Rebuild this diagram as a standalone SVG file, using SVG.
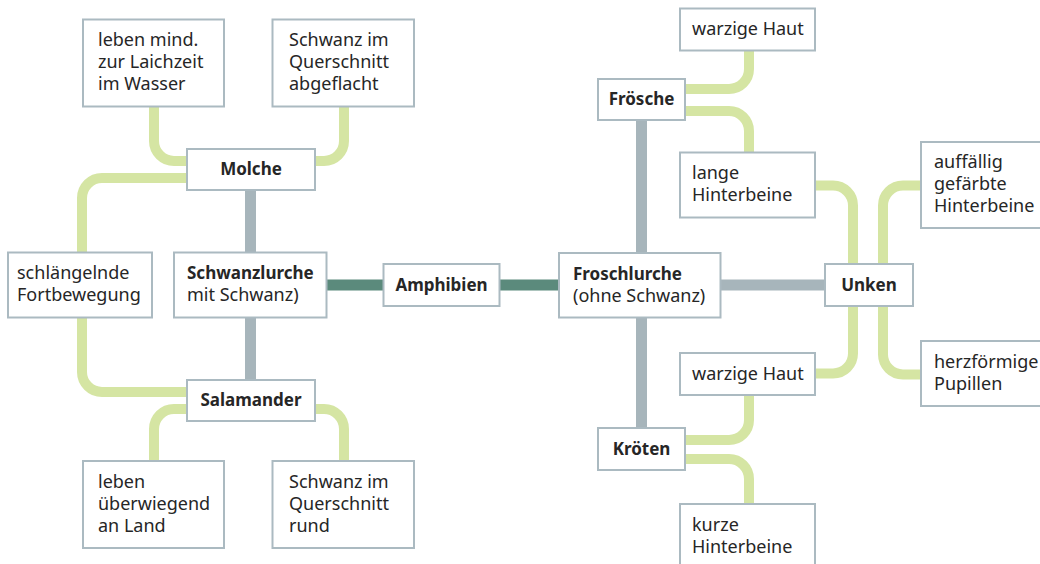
<svg xmlns="http://www.w3.org/2000/svg" width="1040" height="564" viewBox="0 0 1040 564">
<style>
.g{fill:none;stroke:#d5e5a3;stroke-width:10}
.s{fill:none;stroke:#a7b5bb;stroke-width:11}
.t{fill:none;stroke:#5b8a7c;stroke-width:11}
.b{fill:#fff;stroke:#abbac1;stroke-width:2}
text{font-family:"Noto Sans","Open Sans",sans-serif;font-size:18px;fill:#262626}
.h{font-weight:bold;font-size:17px}
.c{text-anchor:middle}
</style>
<rect width="1040" height="564" fill="#fff"/>
<g id="connectors">
<path class="g" d="M154,107 V141 A20,20 0 0 0 174,161 H188"/>
<path class="g" d="M344,107 V141 A20,20 0 0 1 324,161 H314"/>
<path class="g" d="M188,178 H102 A20,20 0 0 0 82,198 V253"/>
<path class="g" d="M82,317 V372 A20,20 0 0 0 102,392 H188"/>
<path class="g" d="M188,409 H174 A20,20 0 0 0 154,429 V462"/>
<path class="g" d="M314,409 H324 A20,20 0 0 1 344,429 V462"/>
<path class="s" d="M250.5,190 V253 M250.5,317 V381"/>
<path class="t" d="M326,285 H384 M499,285 H560"/>
<path class="s" d="M641.5,120 V254 M641.5,317 V429 M720,285 H826"/>
<path class="g" d="M685,89 H729 A20,20 0 0 0 749,69 V50"/>
<path class="g" d="M685,111 H729 A20,20 0 0 1 749,131 V153"/>
<path class="g" d="M815,185.5 H833 A20,20 0 0 1 853,205.5 V265"/>
<path class="g" d="M921,185.5 H903 A20,20 0 0 0 883,205.5 V265"/>
<path class="g" d="M853,305 V353.5 A20,20 0 0 1 833,373.5 H815"/>
<path class="g" d="M883,305 V354.5 A20,20 0 0 0 903,374.5 H921"/>
<path class="g" d="M685,440 H729 A20,20 0 0 0 749,420 V394"/>
<path class="g" d="M685,459 H729 A20,20 0 0 1 749,479 V504"/>
</g>
<g id="molche-wasser"><rect class="b" x="83" y="19.5" width="141" height="87"/><text x="98" y="46">leben mind.</text><text x="98" y="68">zur Laichzeit</text><text x="98" y="90">im Wasser</text></g>
<g id="molche-schwanz"><rect class="b" x="272.5" y="19.5" width="141.5" height="87"/><text x="289" y="46">Schwanz im</text><text x="289" y="68">Querschnitt</text><text x="289" y="90">abgeflacht</text></g>
<g id="molche"><rect class="b" x="187" y="149" width="128" height="41"/><text class="h c" x="251" y="175">Molche</text></g>
<g id="schlaengelnde"><rect class="b" x="8" y="252.5" width="144" height="65"/><text x="17" y="279">schlängelnde</text><text x="17" y="301">Fortbewegung</text></g>
<g id="schwanzlurche"><rect class="b" x="174" y="252.5" width="152.5" height="65"/><text class="h" x="187" y="279">Schwanzlurche</text><text x="187" y="301">mit Schwanz)</text></g>
<g id="amphibien"><rect class="b" x="383.5" y="264" width="116" height="42"/><text class="h c" x="441.5" y="291">Amphibien</text></g>
<g id="salamander"><rect class="b" x="187" y="380" width="128" height="41"/><text class="h c" x="251" y="406">Salamander</text></g>
<g id="salamander-land"><rect class="b" x="83" y="461" width="141" height="87"/><text x="98" y="488">leben</text><text x="98" y="510">überwiegend</text><text x="98" y="532">an Land</text></g>
<g id="salamander-schwanz"><rect class="b" x="272.5" y="461" width="141.5" height="87"/><text x="289" y="488">Schwanz im</text><text x="289" y="510">Querschnitt</text><text x="289" y="532">rund</text></g>
<g id="froschlurche"><rect class="b" x="559" y="253" width="161.5" height="64.5"/><text class="h" x="573" y="280">Froschlurche</text><text x="573" y="302">(ohne Schwanz)</text></g>
<g id="froesche"><rect class="b" x="598" y="79" width="87" height="41"/><text class="h c" x="641.5" y="105">Frösche</text></g>
<g id="froesche-haut"><rect class="b" x="680" y="8.5" width="135" height="42"/><text x="692" y="35">warzige Haut</text></g>
<g id="froesche-beine"><rect class="b" x="680" y="152.5" width="135" height="65"/><text x="692" y="179">lange</text><text x="692" y="201">Hinterbeine</text></g>
<g id="unken"><rect class="b" x="825" y="264" width="88" height="42"/><text class="h c" x="869" y="291">Unken</text></g>
<g id="unken-beine"><rect class="b" x="921" y="142" width="130" height="86"/><text x="934" y="168">auffällig</text><text x="934" y="190">gefärbte</text><text x="934" y="212">Hinterbeine</text></g>
<g id="unken-haut"><rect class="b" x="680" y="353" width="135" height="42"/><text x="692" y="380">warzige Haut</text></g>
<g id="unken-pupillen"><rect class="b" x="921" y="341" width="130" height="65"/><text x="934" y="368">herzförmige</text><text x="934" y="390">Pupillen</text></g>
<g id="kroeten"><rect class="b" x="598" y="428" width="87" height="42"/><text class="h c" x="641.5" y="455">Kröten</text></g>
<g id="kroeten-beine"><rect class="b" x="680" y="504" width="135" height="70"/><text x="692" y="531">kurze</text><text x="692" y="553">Hinterbeine</text></g>
</svg>
